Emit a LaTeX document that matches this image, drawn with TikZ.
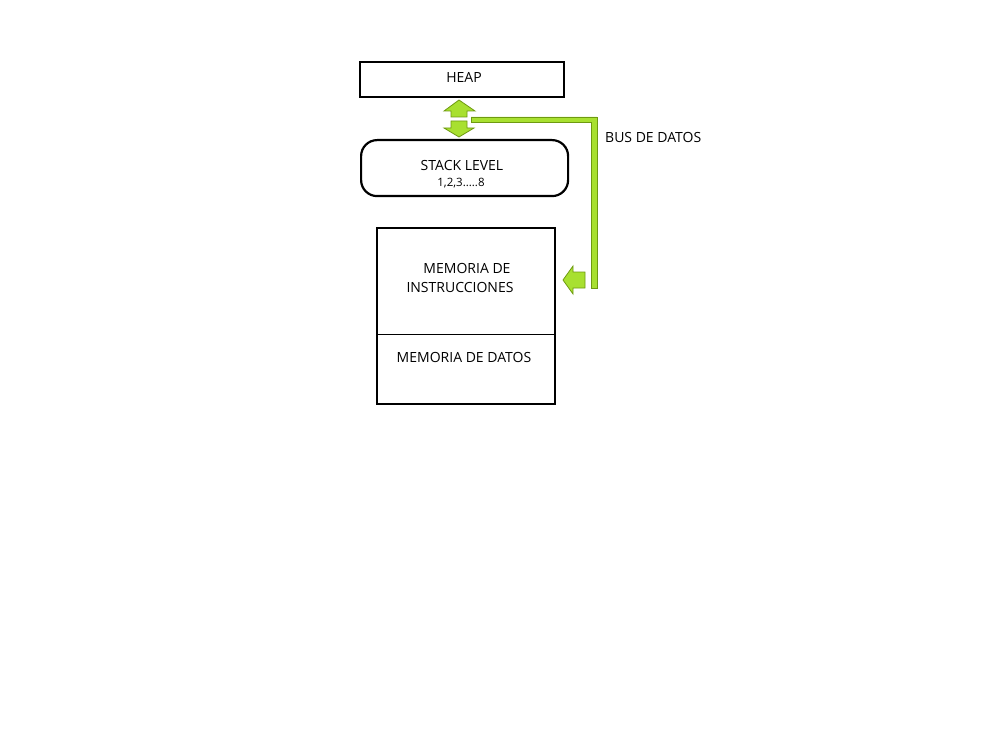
\documentclass[tikz,border=0pt]{standalone}
\usepackage{fontspec}
\setmainfont{Open Sans}
\definecolor{busfill}{HTML}{A8E030}
\definecolor{busline}{HTML}{6E9A10}
\begin{document}
\begin{tikzpicture}[x=1pt,y=-1pt,
  box/.style={draw=black,line width=2.2pt},
  lbl/.style={font=\fontsize{14}{16}\selectfont,inner sep=0pt},
  small/.style={font=\fontsize{11.5}{13}\selectfont,inner sep=0pt},
  bus/.style={fill=busfill,draw=busline,line width=0.8pt}]
\useasboundingbox (0,0) rectangle (996,730);
% HEAP
\node[box,minimum width=204pt,minimum height=35pt,anchor=north west] (heap) at (359,61) {};
\node[lbl] (heapt) at (464,77) {HEAP};
% STACK
\node[box,rounded corners=16pt,minimum width=207pt,minimum height=56pt,anchor=north west] (stack) at (360,139) {};
\node[lbl] (stackt) at (462,166) {STACK LEVEL};
\node[small] (stackn) at (461,183) {1,2,3.....8};
% Memory
\node[box,minimum width=178pt,minimum height=176pt,anchor=north west] (mem) at (376,227) {};
\draw[line width=0.8pt] (mem.west |- 0,334) coordinate (dl) -- (mem.east |- 0,334) coordinate (dr);
\node[lbl] (m1) at (467,268) {MEMORIA DE};
\node[lbl] (m2) at (460,287) {INSTRUCCIONES};
\node[lbl] (m3) at (464,357) {MEMORIA DE DATOS};
% bus text
\node[lbl,anchor=west] (bust) at (605,137) {BUS DE DATOS};
% double arrow
\draw[bus] (459,100) -- (475,111) -- (467,111) -- (467,117) -- (451,117) -- (451,111) -- (444,111) -- cycle;
\draw[bus] (451,121) -- (467,121) -- (467,128) -- (474,128) -- (459,137) -- (444,128) -- (451,128) -- cycle;
% bus line
\draw[bus] (471,117) -- (597,117) -- (597,288) -- (591,288) -- (591,122) -- (471,122) -- cycle;
% left arrow
\draw[bus] (563,280) -- (573,266) -- (573,272) -- (585,272) -- (585,288) -- (573,288) -- (573,294) -- cycle;
\end{tikzpicture}
\end{document}
